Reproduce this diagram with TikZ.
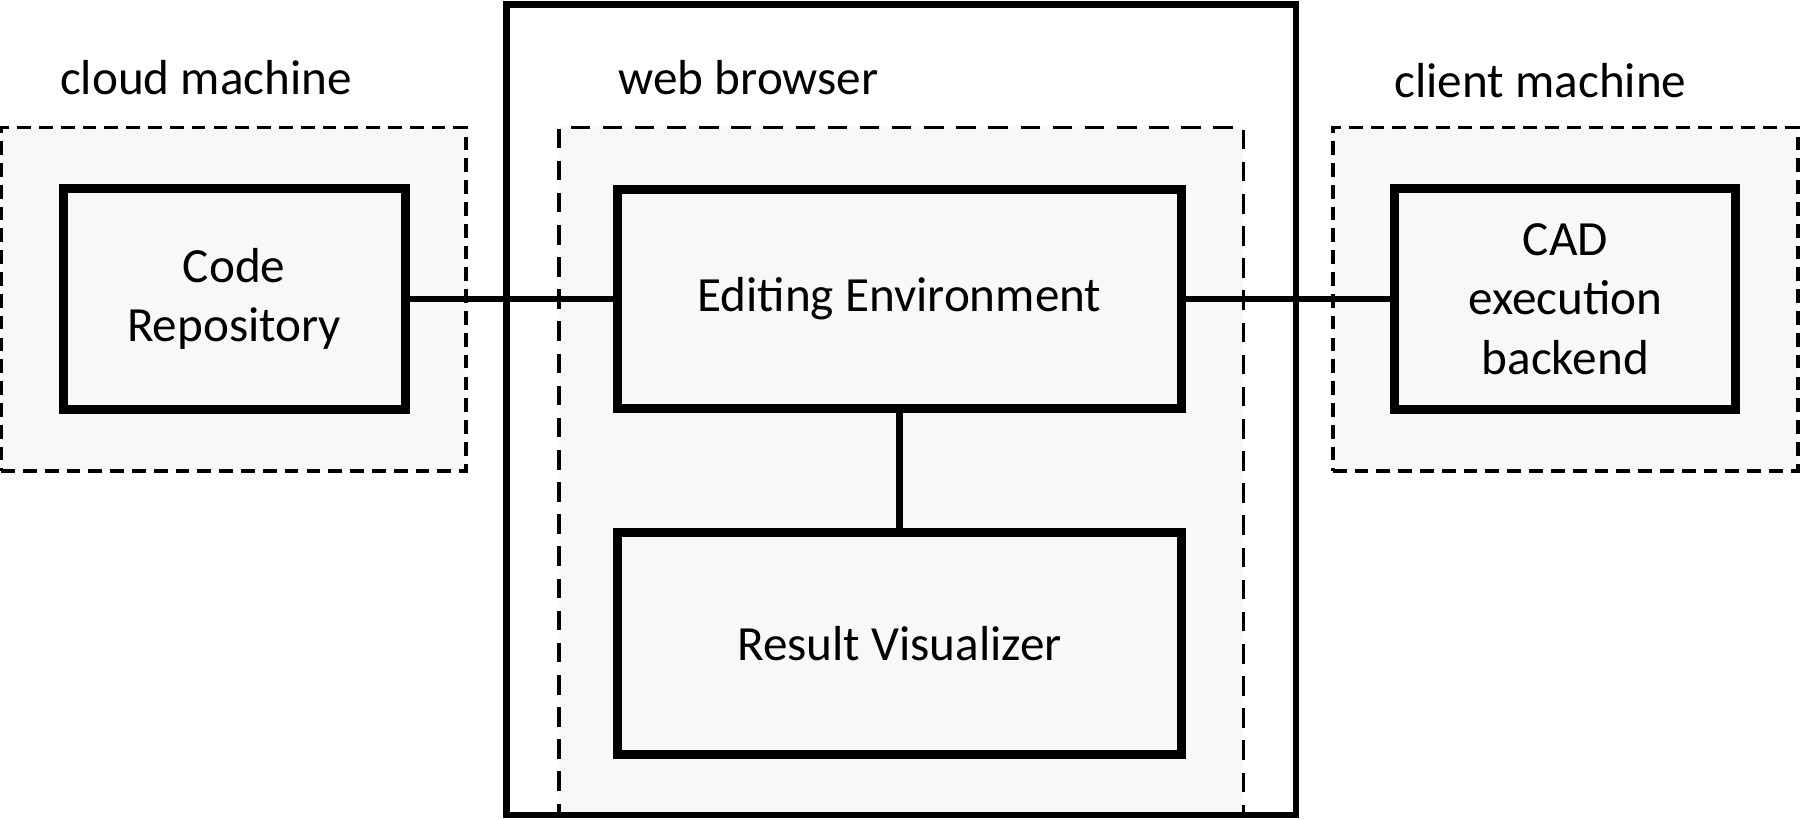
\documentclass[tikz,border=0pt]{standalone}
\usepackage{fontspec}
\setmainfont{Carlito}
\definecolor{panel}{HTML}{F8F8F8}
\tikzset{
  groupbox/.style={draw=black, fill=panel, line width=3.3bp, dash pattern=on 12bp off 7bp, rectangle, inner sep=0pt},
  browserdash/.style={groupbox, line width=3bp, dash pattern=on 17bp off 11bp},
  compbox/.style={draw=black, fill=panel, line width=7.8bp, rectangle, inner sep=0pt, align=center, font=\fontsize{43}{52}\selectfont},
  outerbox/.style={draw=black, line width=5.8bp, rectangle, inner sep=0pt},
  grouplabel/.style={anchor=base, font=\fontsize{43}{52}\selectfont, inner sep=0pt},
  link/.style={line width=5.6bp}
}
\begin{document}
\begin{tikzpicture}[x=1bp, y=-1bp]
\useasboundingbox (0,0) rectangle (1568,714);
% group areas
\node[groupbox, minimum width=405bp, minimum height=299bp] (cloud) at (203.5,260.5) {};
\node[groupbox, minimum width=405bp, minimum height=299bp] (client) at (1363.5,260.5) {};
\node[browserdash, minimum width=596bp, minimum height=599bp] (browserarea) at (785,410.5) {};
\node[outerbox, minimum width=688bp, minimum height=706bp] (browser) at (785,357) {};
% labels
\node[grouplabel] (cloudlbl) at (179.5,82) {cloud machine};
\node[grouplabel] (browserlbl) at (652,82) {web browser};
\node[grouplabel] (clientlbl) at (1342,85) {client machine};
% components
\node[compbox, minimum width=298bp, minimum height=193bp] (code) at (204,260.5) {Code\\Repository};
\node[compbox, minimum width=491bp, minimum height=191bp] (edit) at (783.5,260.5) {Editing Environment};
\node[compbox, minimum width=491bp, minimum height=193bp] (vis) at (783.5,560.5) {Result Visualizer};
\node[compbox, minimum width=297bp, minimum height=193bp] (cad) at (1363.5,260.5) {CAD\\execution\\backend};
% connectors
\draw[link] (code) -- (edit);
\draw[link] (edit) -- (cad);
\draw[link] (edit) -- (vis);
\end{tikzpicture}
\end{document}
